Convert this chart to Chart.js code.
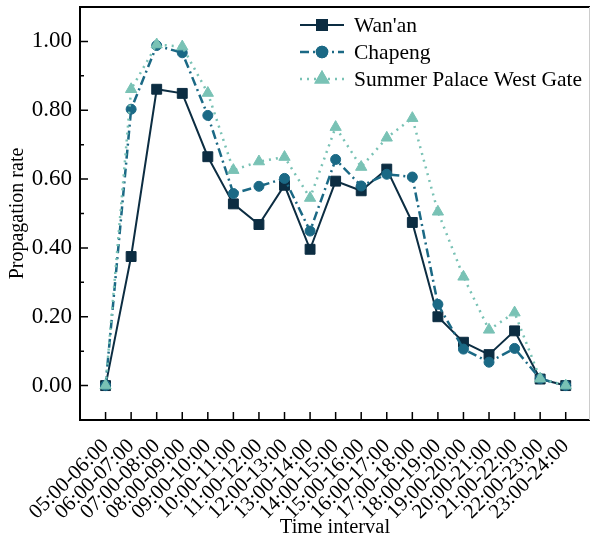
<!DOCTYPE html>
<html>
<head>
<meta charset="utf-8">
<script src="https://cdn.jsdelivr.net/npm/chart.js@4.4.0/dist/chart.umd.min.js"></script>
<style>
  html, body { margin: 0; padding: 0; background: #fff; }
</style>
</head>
<body>
<canvas id="grafica" width="590" height="540"></canvas>
<script>
// Datos
const intervalos = [
  '05:00-06:00', '06:00-07:00', '07:00-08:00', '08:00-09:00', '09:00-10:00',
  '10:00-11:00', '11:00-12:00', '12:00-13:00', '13:00-14:00', '14:00-15:00',
  '15:00-16:00', '16:00-17:00', '17:00-18:00', '18:00-19:00', '19:00-20:00',
  '20:00-21:00', '21:00-22:00', '22:00-23:00', '23:00-24:00'
];
const wanan = [0.00, 0.375, 0.861, 0.849, 0.665, 0.528, 0.468, 0.582, 0.396, 0.594,
               0.566, 0.629, 0.474, 0.200, 0.126, 0.090, 0.159, 0.019, 0.00];
const chapeng = [0.00, 0.803, 0.988, 0.967, 0.785, 0.558, 0.579, 0.602, 0.449, 0.657,
                 0.580, 0.614, 0.606, 0.236, 0.106, 0.068, 0.108, 0.020, 0.00];
const summerPalace = [0.00, 0.861, 0.991, 0.985, 0.850, 0.626, 0.651, 0.664, 0.545, 0.751,
                      0.635, 0.720, 0.777, 0.505, 0.316, 0.162, 0.212, 0.020, 0.00];
const yTicks = [0, 0.2, 0.4, 0.6, 0.8, 1.0];
const yMinorTicks = [0.1, 0.3, 0.5, 0.7, 0.9];

const serif = '"Liberation Serif", "Times New Roman", serif';
Chart.defaults.font.family = serif;
Chart.defaults.font.size = 21;
Chart.defaults.color = '#000';

function puntos(valores) {
  return valores.map((v, i) => ({ x: i, y: v }));
}

// marco y marcas hacia dentro
const marco = {
  id: 'marco',
  afterDatasetsDraw(chart) {
    const { ctx, chartArea: a, scales } = chart;
    const x = scales.x, y = scales.y;
    ctx.save();
    ctx.strokeStyle = '#000';
    ctx.lineWidth = 2;
    ctx.beginPath();
    ctx.moveTo(a.right, a.top);
    ctx.lineTo(a.left, a.top);
    ctx.lineTo(a.left, a.bottom);
    ctx.lineTo(a.right, a.bottom);
    ctx.stroke();
    ctx.strokeStyle = '#ccc';
    ctx.lineWidth = 1;
    ctx.beginPath();
    ctx.moveTo(a.right - 0.5, a.top);
    ctx.lineTo(a.right - 0.5, a.bottom);
    ctx.stroke();

    ctx.strokeStyle = '#000';
    ctx.lineWidth = 1.5;
    ctx.beginPath();
    yTicks.forEach(v => {
      const py = y.getPixelForValue(v);
      ctx.moveTo(a.left, py); ctx.lineTo(a.left + 8, py);
    });
    yMinorTicks.forEach(v => {
      const py = y.getPixelForValue(v);
      ctx.moveTo(a.left, py); ctx.lineTo(a.left + 4, py);
    });
    intervalos.forEach((_, i) => {
      const px = x.getPixelForValue(i);
      ctx.moveTo(px, a.bottom); ctx.lineTo(px, a.bottom - 8);
    });
    ctx.stroke();
    ctx.restore();
  }
};

// leyenda con línea y marcador
const leyenda = {
  id: 'leyenda',
  afterDraw(chart) {
    const { ctx } = chart;
    const filas = [25, 52, 79];
    ctx.save();
    chart.data.datasets.forEach((ds, i) => {
      const yy = filas[i];
      ctx.strokeStyle = ds.borderColor;
      ctx.lineWidth = ds.borderWidth;
      ctx.setLineDash(ds.borderDash || []);
      ctx.beginPath();
      ctx.moveTo(300, yy); ctx.lineTo(344, yy);
      ctx.stroke();
      ctx.setLineDash([]);
      Chart.helpers.drawPoint(ctx, {
        pointStyle: ds.pointStyle, radius: ds.pointRadius, borderWidth: 1, rotation: 0
      }, 322, yy);
      ctx.fillStyle = ds.pointBackgroundColor;
      ctx.strokeStyle = ds.pointBorderColor;
      ctx.fill();
      ctx.stroke();
      ctx.fillStyle = '#000';
      ctx.font = '21.5px ' + serif;
      ctx.textBaseline = 'middle';
      ctx.fillText(ds.label, 354, yy + 1);
    });
    ctx.restore();
  }
};

new Chart(document.getElementById('grafica'), {
  type: 'line',
  data: {
    datasets: [
      {
        label: "Wan'an",
        data: puntos(wanan),
        borderColor: '#0c2d42',
        borderWidth: 2,
        pointStyle: 'rect',
        pointRadius: 7,
        pointBackgroundColor: '#0c2d42',
        pointBorderColor: '#0c2d42',
        pointBorderWidth: 1,
        order: 2
      },
      {
        label: 'Chapeng',
        data: puntos(chapeng),
        borderColor: '#1b6985',
        borderWidth: 2.5,
        borderDash: [9, 4, 2, 4],
        pointStyle: 'circle',
        pointRadius: 5,
        pointBackgroundColor: '#1b6985',
        pointBorderColor: '#1b6985',
        pointBorderWidth: 1,
        order: 1
      },
      {
        label: 'Summer Palace West Gate',
        data: puntos(summerPalace),
        borderColor: '#79c2b5',
        borderWidth: 2.5,
        borderDash: [2, 5],
        pointStyle: 'triangle',
        pointRadius: 6.5,
        pointBackgroundColor: '#79c2b5',
        pointBorderColor: '#79c2b5',
        pointBorderWidth: 1,
        order: 0
      }
    ]
  },
  options: {
    responsive: false,
    animation: false,
    devicePixelRatio: 1,
    layout: { autoPadding: false, padding: { top: 7, right: 0, left: 0, bottom: 0 } },
    plugins: {
      legend: { display: false },
      tooltip: { enabled: false }
    },
    scales: {
      x: {
        type: 'linear',
        min: -1,
        max: 18.95,
        afterBuildTicks: s => { s.ticks = intervalos.map((_, i) => ({ value: i })); },
        afterFit: s => { s.height = 120; s.paddingLeft = 0; s.paddingRight = 0; },
        grid: { display: false, drawTicks: false },
        border: { display: false },
        ticks: {
          autoSkip: false,
          minRotation: 45,
          maxRotation: 45,
          padding: 14,
          callback: v => intervalos[v] ?? ''
        },
        title: { display: true, text: 'Time interval', font: { size: 20.5 }, padding: { top: 0, bottom: 0 } }
      },
      y: {
        min: -0.1,
        max: 1.1,
        afterBuildTicks: s => { s.ticks = yTicks.map(v => ({ value: v })); },
        afterFit: s => { s.width = 80; s.paddingTop = 0; s.paddingBottom = 0; },
        grid: { display: false, drawTicks: false },
        border: { display: false },
        ticks: { padding: 8, font: { size: 23 }, callback: v => v.toFixed(2) },
        title: { display: true, text: 'Propagation rate', font: { size: 20 }, padding: { top: 6, bottom: 0 } }
      }
    }
  },
  plugins: [marco, leyenda]
});
</script>
</body>
</html>
